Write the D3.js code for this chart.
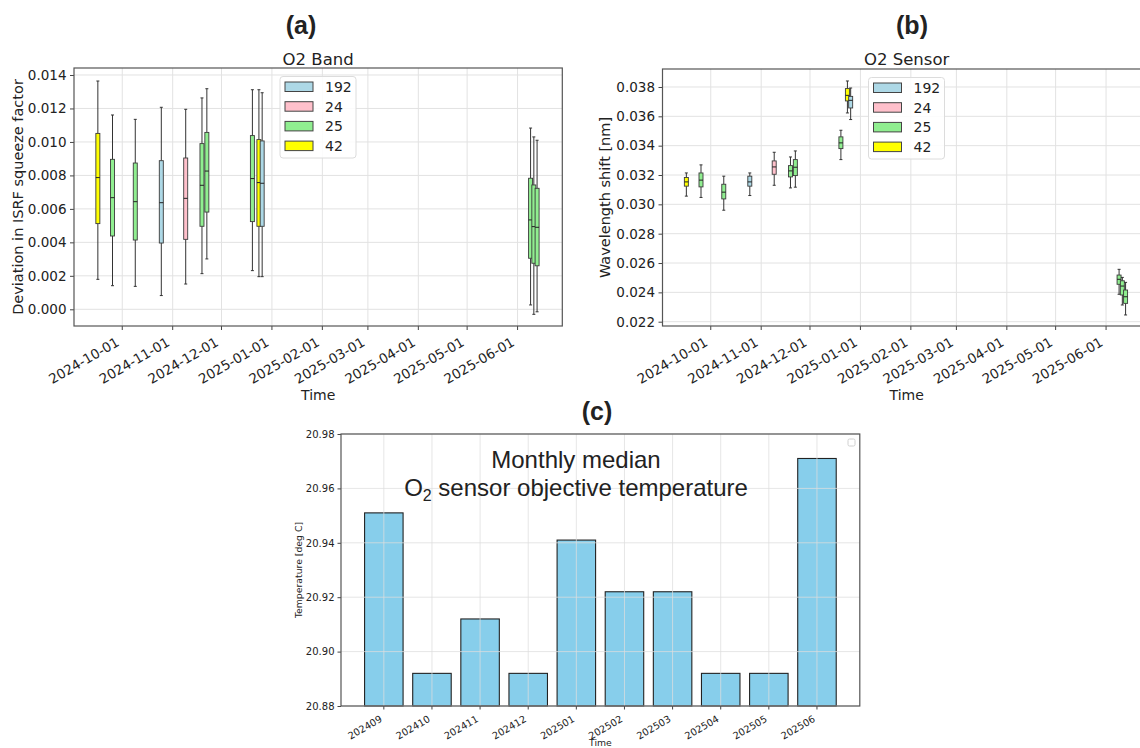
<!DOCTYPE html>
<html>
<head>
<meta charset="utf-8">
<script src="https://cdn.jsdelivr.net/npm/d3@7"></script>
<style>
  body { margin: 0; background: #fff; }
  svg { display: block; }
  text { font-family: "DejaVu Sans", sans-serif; fill: #222; }
</style>
</head>
<body>
<svg id="fig" width="1140" height="748"></svg>
<script>
// Observation dates and sensor ids shared by panels (a) and (b)
const obsDates = ["2024-09-16","2024-09-25","2024-10-09","2024-10-25","2024-11-09","2024-11-19","2024-11-22",
                  "2024-12-20","2024-12-24","2024-12-26","2025-06-09","2025-06-11","2025-06-13"];
const obsSensors = ["42","25","25","192","24","25","25","25","42","192","25","25","25"];

// (a) Deviation in ISRF squeeze factor: whisker low, Q1, median, Q3, whisker high
const bandLow  = [0.00179,0.00141,0.00137,0.00082,0.00151,0.00213,0.00301,0.00231,0.00195,0.00195,0.00026,-0.00030,-0.00015];
const bandQ1   = [0.00512,0.00438,0.00414,0.00396,0.00418,0.00496,0.00581,0.00524,0.00496,0.00496,0.00305,0.00275,0.00260];
const bandMed  = [0.00787,0.00667,0.00643,0.00637,0.00663,0.00741,0.00826,0.00781,0.00757,0.00753,0.00534,0.00494,0.00490];
const bandQ3   = [0.01051,0.00896,0.00874,0.00888,0.00904,0.00990,0.01057,0.01038,0.01014,0.01006,0.00783,0.00743,0.00723];
const bandHigh = [0.01364,0.01161,0.01135,0.01207,0.01195,0.01263,0.01318,0.01312,0.01312,0.01294,0.01083,0.01030,0.01010];

// (b) Wavelength shift [nm]
const shiftLow  = [0.03056,0.03047,0.02960,0.03060,0.03130,0.03112,0.03117,0.03305,0.03623,0.03578,0.02387,0.02314,0.02246];
const shiftQ1   = [0.03124,0.03119,0.03037,0.03124,0.03205,0.03187,0.03196,0.03380,0.03705,0.03657,0.02455,0.02382,0.02325];
const shiftMed  = [0.03153,0.03165,0.03083,0.03153,0.03255,0.03228,0.03253,0.03419,0.03743,0.03709,0.02489,0.02443,0.02370];
const shiftQ3   = [0.03183,0.03214,0.03137,0.03192,0.03296,0.03264,0.03305,0.03460,0.03789,0.03736,0.02518,0.02479,0.02416];
const shiftHigh = [0.03214,0.03269,0.03192,0.03214,0.03355,0.03323,0.03364,0.03505,0.03841,0.03793,0.02557,0.02502,0.02468];

const sensorIds    = ["192","24","25","42"];
const sensorColors = ["#add8e6","#ffc0cb","#90ee90","#ffff00"];

const bandTicks  = [0.000,0.002,0.004,0.006,0.008,0.010,0.012,0.014];
const shiftTicks = [0.022,0.024,0.026,0.028,0.030,0.032,0.034,0.036,0.038];
const monthTicks = ["2024-10-01","2024-11-01","2024-12-01","2025-01-01","2025-02-01",
                    "2025-03-01","2025-04-01","2025-05-01","2025-06-01"];

// (c) Monthly median O2 sensor objective temperature
const months     = ["202409","202410","202411","202412","202501","202502","202503","202504","202505","202506"];
const monthTemps = [20.951,20.892,20.912,20.892,20.941,20.922,20.922,20.892,20.892,20.971];
const tempTicks  = [20.88,20.90,20.92,20.94,20.96,20.98];

const svg = d3.select("#fig");
const parse = d3.utcParse("%Y-%m-%d");
const color = d3.scaleOrdinal().domain(sensorIds).range(sensorColors);
const timeDomain = [new Date(Date.UTC(2024, 8, 1, 8)), new Date(Date.UTC(2025, 5, 28, 12))];

function boxPanel(o) {
  const x = d3.scaleUtc().domain(timeDomain).range([o.left, o.right]);
  const y = d3.scaleLinear().domain(o.yDomain).range([o.bottom, o.top]);
  const g = svg.append("g");

  // grid
  g.append("g").selectAll("line").data(o.yTicks).join("line")
    .attr("x1", o.left).attr("x2", o.right)
    .attr("y1", d => y(d)).attr("y2", d => y(d))
    .attr("stroke", "#e2e2e2").attr("stroke-width", 1);
  g.append("g").selectAll("line").data(monthTicks).join("line")
    .attr("x1", d => x(parse(d))).attr("x2", d => x(parse(d)))
    .attr("y1", o.top).attr("y2", o.bottom)
    .attr("stroke", "#e2e2e2").attr("stroke-width", 1);

  // axes
  const yAxis = d3.axisLeft(y).tickValues(o.yTicks).tickFormat(d3.format(".3f"))
    .tickSizeInner(4).tickSizeOuter(0).tickPadding(3.5);
  const ya = g.append("g").attr("transform", `translate(${o.left},0)`).call(yAxis);
  ya.select(".domain").remove();
  ya.selectAll("line").attr("stroke", "#444");
  ya.selectAll("text").attr("font-size", 13.5).attr("fill", "#222");

  const xa = g.append("g").attr("transform", `translate(0,${o.bottom})`);
  xa.selectAll("line").data(monthTicks).join("line")
    .attr("x1", d => x(parse(d))).attr("x2", d => x(parse(d)))
    .attr("y1", 0).attr("y2", 4).attr("stroke", "#444");
  xa.selectAll("text").data(monthTicks).join("text")
    .attr("transform", d => `translate(${x(parse(d)) - 2},${19}) rotate(-30)`)
    .attr("text-anchor", "end").attr("font-size", 13.5)
    .text(d => d);

  // boxes
  const n = obsDates.length;
  const bw = 4, cw = 3;
  for (let i = 0; i < n; i++) {
    const cx = x(parse(obsDates[i]));
    const b = g.append("g");
    b.append("line").attr("x1", cx).attr("x2", cx)
      .attr("y1", y(o.low[i])).attr("y2", y(o.q1[i])).attr("stroke", "#333").attr("stroke-width", 1);
    b.append("line").attr("x1", cx).attr("x2", cx)
      .attr("y1", y(o.q3[i])).attr("y2", y(o.high[i])).attr("stroke", "#333").attr("stroke-width", 1);
    b.append("line").attr("x1", cx - cw / 2).attr("x2", cx + cw / 2)
      .attr("y1", y(o.low[i])).attr("y2", y(o.low[i])).attr("stroke", "#333");
    b.append("line").attr("x1", cx - cw / 2).attr("x2", cx + cw / 2)
      .attr("y1", y(o.high[i])).attr("y2", y(o.high[i])).attr("stroke", "#333");
    b.append("rect").attr("x", cx - bw / 2).attr("width", bw)
      .attr("y", y(o.q3[i])).attr("height", y(o.q1[i]) - y(o.q3[i]))
      .attr("fill", color(obsSensors[i])).attr("stroke", "#3a3a3a").attr("stroke-width", 0.9);
    b.append("line").attr("x1", cx - bw / 2).attr("x2", cx + bw / 2)
      .attr("y1", y(o.med[i])).attr("y2", y(o.med[i])).attr("stroke", "#222").attr("stroke-width", 1);
  }

  // frame
  g.append("rect").attr("x", o.left).attr("y", o.top)
    .attr("width", o.right - o.left).attr("height", o.bottom - o.top)
    .attr("fill", "none").attr("stroke", "#555").attr("stroke-width", 1.2);

  // legend
  const lx = o.left + 206, ly = o.top + 8.5;
  const lg = g.append("g").attr("transform", `translate(${lx},${ly})`);
  lg.append("rect").attr("width", 76).attr("height", 81.5).attr("rx", 3)
    .attr("fill", "#fff").attr("fill-opacity", 0.85).attr("stroke", "#dcdcdc");
  sensorIds.forEach((s, k) => {
    lg.append("rect").attr("x", 5).attr("y", 5.5 + k * 19.7).attr("width", 28).attr("height", 9.5)
      .attr("fill", color(s)).attr("stroke", "#444").attr("stroke-width", 1);
    lg.append("text").attr("x", 45).attr("y", 15.5 + k * 19.7)
      .attr("font-size", 14).text(s);
  });

  // labels
  g.append("text").attr("x", (o.left + o.right) / 2).attr("y", 65)
    .attr("text-anchor", "middle").attr("font-size", 16.5).text(o.title);
  g.append("text").attr("x", (o.left + o.right) / 2).attr("y", 400)
    .attr("text-anchor", "middle").attr("font-size", 14).text("Time");
  g.append("text").attr("transform", `translate(${o.ylabX},${(o.top + o.bottom) / 2}) rotate(-90)`)
    .attr("text-anchor", "middle").attr("font-size", 14.5).text(o.ylabel);
}

boxPanel({
  left: 74, right: 562.3, top: 68, bottom: 326,
  yDomain: [-0.000998, 0.014418], yTicks: bandTicks,
  low: bandLow, q1: bandQ1, med: bandMed, q3: bandQ3, high: bandHigh,
  title: "O2 Band", ylabel: "Deviation in ISRF squeeze factor", ylabX: 23
});
boxPanel({
  left: 662.5, right: 1150.8, top: 69, bottom: 326,
  yDomain: [0.021707, 0.039226], yTicks: shiftTicks,
  low: shiftLow, q1: shiftQ1, med: shiftMed, q3: shiftQ3, high: shiftHigh,
  title: "O2 Sensor", ylabel: "Wavelength shift [nm]", ylabX: 610
});

// Panel (c): bar chart
(function () {
  const L = 341, R = 859.8, T = 434, B = 706;
  const x = d3.scaleLinear().domain([-0.89, 9.89]).range([L, R]);
  const y = d3.scaleLinear().domain([20.88, 20.98]).range([B, T]);
  const g = svg.append("g");

  g.selectAll("rect.bar").data(months).join("rect").attr("class", "bar")
    .attr("x", (d, i) => x(i - 0.4)).attr("width", x(0.8) - x(0))
    .attr("y", (d, i) => y(monthTemps[i])).attr("height", (d, i) => B - y(monthTemps[i]))
    .attr("fill", "#87ceeb").attr("stroke", "#222").attr("stroke-width", 1.1);

  // grid drawn above the bars
  g.append("g").selectAll("line").data(tempTicks).join("line")
    .attr("x1", L).attr("x2", R).attr("y1", d => y(d)).attr("y2", d => y(d))
    .attr("stroke", "#dedede").attr("stroke-opacity", 0.75);
  g.append("g").selectAll("line").data(months).join("line")
    .attr("x1", (d, i) => x(i)).attr("x2", (d, i) => x(i)).attr("y1", T).attr("y2", B)
    .attr("stroke", "#dedede").attr("stroke-opacity", 0.75);

  const ya = g.append("g").attr("transform", `translate(${L},0)`)
    .call(d3.axisLeft(y).tickValues(tempTicks).tickFormat(d3.format(".2f")).tickSizeInner(3.5).tickSizeOuter(0).tickPadding(3));
  ya.select(".domain").remove();
  ya.selectAll("line").attr("stroke", "#444");
  ya.selectAll("text").attr("font-size", 10).attr("fill", "#222");

  const xa = g.append("g").attr("transform", `translate(0,${B})`);
  xa.selectAll("line").data(months).join("line")
    .attr("x1", (d, i) => x(i)).attr("x2", (d, i) => x(i)).attr("y1", 0).attr("y2", 3.5).attr("stroke", "#444");
  xa.selectAll("text").data(months).join("text")
    .attr("transform", (d, i) => `translate(${x(i) - 1},${15}) rotate(-30)`)
    .attr("text-anchor", "end").attr("font-size", 9.8).text(d => d);

  g.append("rect").attr("x", L).attr("y", T).attr("width", R - L).attr("height", B - T)
    .attr("fill", "none").attr("stroke", "#555").attr("stroke-width", 1.2);

  // empty legend frame in the upper right corner
  g.append("rect").attr("x", 848).attr("y", 439).attr("width", 7).attr("height", 7).attr("rx", 1.5)
    .attr("fill", "#fff").attr("stroke", "#d0d0d0");

  g.append("text").attr("transform", `translate(301.5,${(T + B) / 2}) rotate(-90)`)
    .attr("text-anchor", "middle").attr("font-size", 9.3).text("Temperature [deg C]");
  g.append("text").attr("x", (L + R) / 2).attr("y", 746)
    .attr("text-anchor", "middle").attr("font-size", 9.3).text("Time");

  const ann = g.append("g");
  ann.append("text").attr("x", 576).attr("y", 468).attr("text-anchor", "middle")
    .attr("font-size", 24).style("font-family", "'Liberation Sans', Arial, sans-serif").text("Monthly median");
  const t2 = ann.append("text").attr("x", 576).attr("y", 496).attr("text-anchor", "middle")
    .attr("font-size", 24).style("font-family", "'Liberation Sans', Arial, sans-serif");
  t2.append("tspan").text("O");
  t2.append("tspan").attr("font-size", 16).attr("dy", 5).text("2");
  t2.append("tspan").attr("dy", -5).text(" sensor objective temperature");
})();

// Panel letters
[["(a)", 301, 34], ["(b)", 912, 34], ["(c)", 597, 420]].forEach(([t, px, py]) => {
  svg.append("text").attr("x", px).attr("y", py).attr("text-anchor", "middle")
    .attr("font-size", 25).attr("font-weight", "bold")
    .style("font-family", "'Liberation Sans', Arial, sans-serif").text(t);
});
</script>
</body>
</html>
